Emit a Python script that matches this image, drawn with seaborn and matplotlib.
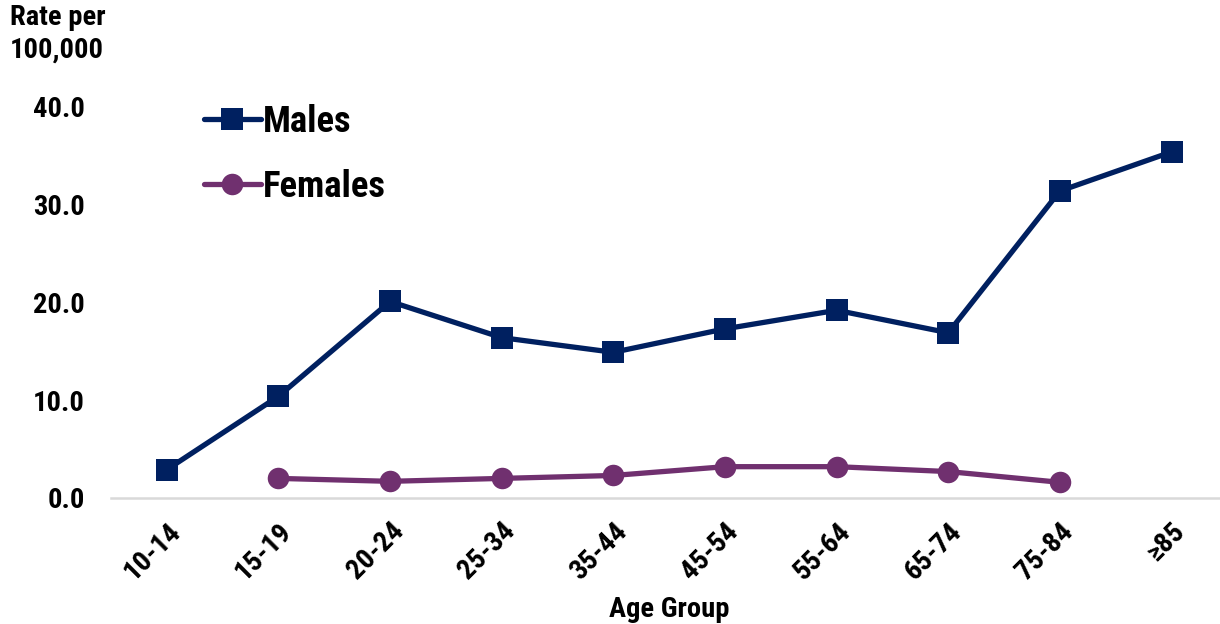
import matplotlib
matplotlib.use("Agg")
import matplotlib.pyplot as plt
import seaborn as sns
import numpy as np
import pandas as pd

# Data
age_groups = ["10-14", "15-19", "20-24", "25-34", "35-44", "45-54", "55-64", "65-74", "75-84", "\u226585"]
males = [2.9, 10.4, 20.1, 16.4, 14.9, 17.3, 19.2, 16.9, 31.4, 35.4]
females = [np.nan, 2.0, 1.7, 2.0, 2.3, 3.2, 3.2, 2.7, 1.6, np.nan]
y_ticks = [0, 10, 20, 30, 40]

MALE_COLOR = "#002060"
FEMALE_COLOR = "#70306F"

sns.set_theme(style="white")
plt.rcParams['font.family'] = ['Roboto Condensed', 'DejaVu Sans']
plt.rcParams['font.weight'] = 'bold'
plt.rcParams['text.color'] = 'black'
plt.rcParams['xtick.color'] = 'black'
plt.rcParams['ytick.color'] = 'black'
plt.rcParams['axes.labelcolor'] = 'black'

df = pd.DataFrame({"pos": np.arange(len(age_groups)), "Males": males, "Females": females})

fig = plt.figure(figsize=(12.2, 6.24), dpi=100)
ax = fig.add_axes([0.091, 0.202, 0.915, 0.6266])

sns.lineplot(data=df, x="pos", y="Males", ax=ax, color=MALE_COLOR, linewidth=3.8,
             marker="s", markersize=16, markeredgewidth=0, label="Males")
sns.lineplot(data=df.dropna(), x="pos", y="Females", ax=ax, color=FEMALE_COLOR, linewidth=3.8,
             marker="o", markersize=15.5, markeredgewidth=0, label="Females")

ax.set_xlim(-0.5, 9.5)
ax.set_ylim(0, 40)
ax.set_yticks(y_ticks)
ax.set_yticklabels([f"{v:.1f}" for v in y_ticks], fontsize=20.5, fontweight='bold')
ax.set_xticks(df["pos"])
# "≥" may be missing in Roboto Condensed, so DejaVu Sans stays in the list as fallback
ax.set_xticklabels(age_groups, fontsize=20.5, fontweight='bold', rotation=45,
                   ha='right', rotation_mode='anchor')
ax.tick_params(axis='y', length=0, pad=19)
ax.tick_params(axis='x', length=0, pad=14)

for side in ["left", "top", "right"]:
    ax.spines[side].set_visible(False)
ax.spines["bottom"].set_color("#D9D9D9")
ax.spines["bottom"].set_linewidth(1.8)
ax.grid(False)

ax.set_xlabel("Age Group", fontsize=20.5, fontweight='bold', labelpad=8)
ax.set_ylabel("")
fig.text(10 / 1220, 1 - 4 / 624, "Rate per\n100,000", ha='left', va='top',
         fontsize=20.5, fontweight='bold', linespacing=1.25)

ax.legend(loc='upper left', bbox_to_anchor=(0.07, 1.046), frameon=False,
          prop={'size': 26.5, 'weight': 'bold'}, handlelength=1.55, handletextpad=0.05,
          labelspacing=0.8, borderaxespad=0)

fig.savefig("out.png", dpi=100)
